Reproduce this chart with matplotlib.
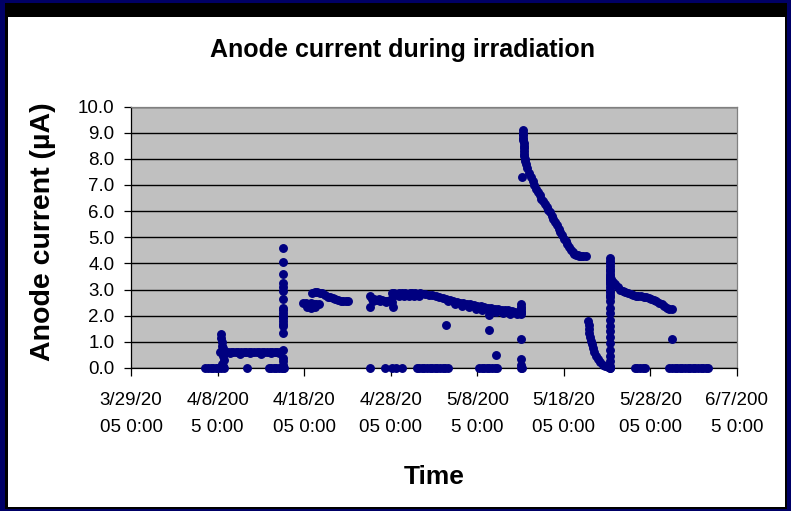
import matplotlib
matplotlib.use("Agg")
import matplotlib.pyplot as plt
from matplotlib.patches import Rectangle

plt.rcParams['font.family'] = ['Liberation Sans', 'DejaVu Sans']

# ---------------- data (days since 3/29/2005 0:00, anode current in uA) -------------
title = "Anode current during irradiation"
x_label = "Time"
y_label = "Anode current (µA)"

x_ticks = [0, 10, 20, 30, 40, 50, 60, 70]
x_tick_labels = ["3/29/20\n05 0:00", "4/8/200\n5 0:00", "4/18/20\n05 0:00",
                 "4/28/20\n05 0:00", "5/8/200\n5 0:00", "5/18/20\n05 0:00",
                 "5/28/20\n05 0:00", "6/7/200\n5 0:00"]
y_ticks = [0, 1, 2, 3, 4, 5, 6, 7, 8, 9, 10]
y_tick_labels = ["0.0", "1.0", "2.0", "3.0", "4.0", "5.0", "6.0", "7.0", "8.0", "9.0", "10.0"]

zeros_days = [8.6, 8.9, 9.2, 9.5, 9.8, 10.1, 10.4, 10.7, 13.4,
              15.9, 16.2, 16.5, 16.8, 17.1, 17.4, 17.7,
              27.6, 29.3, 30.1, 30.6, 31.3,
              33.0, 33.3, 33.6, 33.9, 34.2, 34.5, 34.8, 35.1, 35.4, 35.7, 36.0, 36.3, 36.6,
              40.2, 40.5, 40.8, 41.1, 41.4, 41.7, 42.0, 42.3,
              45.2, 55.3,
              58.2, 58.5, 58.8, 59.1, 59.4,
              62.2, 62.5, 62.8, 63.1, 63.4, 63.7, 64.0, 64.3, 64.6, 64.9, 65.2, 65.5,
              65.8, 66.1, 66.4, 66.7]
zeros_vals = [0.0] * len(zeros_days)

startup_days = [10.4, 10.4, 10.5, 10.5, 10.6, 10.6, 10.7, 10.5, 10.6]
startup_vals = [1.3, 1.15, 1.0, 0.85, 0.75, 0.45, 0.3, 0.15, 0.08]

low_band_days = [10.3, 10.6, 10.9, 11.2, 11.5, 11.8, 12.1, 12.4, 12.7, 13.0, 13.3, 13.6,
                 13.9, 14.2, 14.5, 14.8, 15.1, 15.4, 15.7, 16.0, 16.3, 16.6, 16.9, 17.2,
                 10.5, 11.4, 12.6, 13.8, 15.0, 16.2, 17.1]
low_band_vals = [0.62, 0.65, 0.6, 0.63, 0.62, 0.6, 0.62, 0.6, 0.6, 0.6, 0.62, 0.6,
                 0.6, 0.6, 0.6, 0.6, 0.6, 0.6, 0.6, 0.6, 0.6, 0.6, 0.6, 0.62,
                 0.7, 0.56, 0.55, 0.56, 0.55, 0.56, 0.58]

spike1_days = [17.5] * 22
spike1_vals = [4.6, 4.05, 3.6, 3.25, 3.1, 2.95, 2.65, 2.3, 2.2, 2.1, 2.0, 1.9, 1.8, 1.7,
               1.6, 1.35, 0.7, 0.4, 0.25, 0.1, 0.05, 0.0]

seg_apr18_days = [19.9, 20.2, 20.5, 20.8, 21.1, 21.4, 21.7, 20.3, 20.8, 21.3,
                  20.9, 21.2, 21.5, 21.8, 22.1, 22.4, 22.7, 23.0, 23.3, 23.6, 23.9,
                  24.2, 24.5, 24.8, 25.1]
seg_apr18_vals = [2.48, 2.47, 2.45, 2.47, 2.45, 2.46, 2.45, 2.35, 2.3, 2.32,
                  2.85, 2.9, 2.9, 2.88, 2.85, 2.78, 2.72, 2.7, 2.66, 2.63, 2.6,
                  2.58, 2.57, 2.56, 2.55]

seg_apr28_days = [27.6, 27.6, 27.8, 28.1, 28.4, 28.7, 29.0, 29.3, 29.6, 29.9, 30.2, 30.3,
                  28.0, 28.8, 29.5,
                  30.1, 30.4, 30.7, 31.0, 31.3, 31.6, 31.9, 32.2, 32.5, 32.8, 33.1, 33.4,
                  30.3, 30.9, 31.5, 32.1, 32.7, 33.3]
seg_apr28_vals = [2.74, 2.35, 2.65, 2.62, 2.6, 2.62, 2.6, 2.58, 2.56, 2.6, 2.52, 2.35,
                  2.55, 2.55, 2.52,
                  2.85, 2.85, 2.84, 2.86, 2.85, 2.85, 2.84, 2.86, 2.85, 2.85, 2.84, 2.85,
                  2.75, 2.76, 2.75, 2.76, 2.75, 2.76]

decline_days = [34.0, 34.4, 34.8, 35.2, 35.6, 36.0, 36.4, 36.8, 37.2, 37.6, 38.0, 38.4,
                38.8, 39.2, 39.6, 40.0, 40.4, 40.8, 41.2, 41.6, 42.0, 42.4, 42.8, 43.2,
                43.6, 44.0, 44.4, 44.8, 45.0,
                36.6, 37.4, 38.2, 39.0, 39.8, 40.6, 41.4, 42.2, 43.0, 43.8, 44.6]
decline_vals = [2.82, 2.8, 2.78, 2.75, 2.72, 2.68, 2.64, 2.6, 2.57, 2.54, 2.5, 2.48,
                2.45, 2.43, 2.4, 2.38, 2.36, 2.33, 2.31, 2.29, 2.26, 2.24, 2.22, 2.21,
                2.2, 2.18, 2.16, 2.14, 2.13,
                2.55, 2.45, 2.38, 2.32, 2.27, 2.22, 2.18, 2.14, 2.1, 2.08, 2.06]

spike2_days = [45.1, 45.1, 45.1, 45.1, 45.1, 45.1, 45.1, 45.1, 45.1]
spike2_vals = [2.45, 2.35, 2.25, 2.15, 2.05, 1.12, 0.35, 0.12, 0.0]

stray_days = [36.4, 41.3, 41.3, 42.2, 62.5]
stray_vals = [1.66, 2.03, 1.45, 0.5, 1.11]

peak_days = [45.3, 45.3, 45.3, 45.3, 45.3, 45.35, 45.35, 45.35, 45.4, 45.4, 45.45, 45.5,
             45.5, 45.2,
             45.6, 45.8, 46.0, 46.2, 46.4, 46.6, 46.8, 47.0, 47.2, 47.4, 47.6, 47.8,
             48.0, 48.2, 48.4, 48.6, 48.8, 49.0, 49.2, 49.4, 49.6, 49.8, 50.0, 50.2,
             50.4, 50.6, 50.8, 51.0, 51.2, 51.4, 51.6, 51.8, 52.0, 52.2, 52.5]
peak_vals = [9.1, 9.0, 8.9, 8.8, 8.7, 8.6, 8.5, 8.4, 8.3, 8.2, 8.1, 8.0,
             7.9, 7.3,
             7.8, 7.65, 7.45, 7.3, 7.15, 7.0, 6.85, 6.72, 6.6, 6.48, 6.38, 6.27,
             6.15, 6.05, 5.95, 5.83, 5.7, 5.57, 5.45, 5.32, 5.2, 5.07, 4.95, 4.85,
             4.73, 4.62, 4.52, 4.43, 4.37, 4.33, 4.31, 4.3, 4.3, 4.3, 4.3]

dip_days = [52.8, 52.85, 52.9, 52.95, 53.0, 53.1, 53.2, 53.35, 53.5, 53.7, 53.9, 54.2,
            54.5, 54.8, 55.1, 55.3]
dip_vals = [1.8, 1.65, 1.5, 1.35, 1.2, 1.05, 0.9, 0.75, 0.6, 0.45, 0.33, 0.22,
            0.13, 0.07, 0.03, 0.0]

spike3_days = [55.3] * 30
spike3_vals = [4.2, 4.1, 4.0, 3.9, 3.8, 3.7, 3.6, 3.5, 3.4, 3.3, 3.2, 3.1, 3.0, 2.9,
               2.8, 2.73, 2.55, 2.3, 2.1, 1.85, 1.6, 1.4, 1.2, 0.96, 0.7, 0.44, 0.25,
               0.06, 3.45, 3.35]

decay_days = [55.5, 55.7, 55.9, 56.2, 56.5, 56.8, 57.1, 57.4, 57.7, 58.0, 58.3, 58.6,
              58.9, 59.2, 59.5, 59.8, 60.1, 60.4, 60.7, 61.0, 61.3, 61.6, 61.9, 62.2,
              62.5]
decay_vals = [3.4, 3.3, 3.2, 3.08, 3.0, 2.95, 2.9, 2.87, 2.83, 2.8, 2.77, 2.75,
              2.74, 2.73, 2.72, 2.68, 2.65, 2.61, 2.57, 2.5, 2.43, 2.36, 2.31, 2.27,
              2.25]

series = [(zeros_days, zeros_vals), (startup_days, startup_vals),
          (low_band_days, low_band_vals), (spike1_days, spike1_vals),
          (seg_apr18_days, seg_apr18_vals), (seg_apr28_days, seg_apr28_vals),
          (decline_days, decline_vals), (spike2_days, spike2_vals),
          (stray_days, stray_vals), (peak_days, peak_vals), (dip_days, dip_vals),
          (spike3_days, spike3_vals), (decay_days, decay_vals)]

# ---------------- figure ----------------
W, H = 791, 511
fig = plt.figure(figsize=(W / 100, H / 100), dpi=100)
fig.patch.set_facecolor('#000066')


def frame_rect(x0, y0, x1, y1, color, edge='none'):
    fig.add_artist(Rectangle((x0 / W, 1 - y1 / H), (x1 - x0) / W, (y1 - y0) / H,
                             transform=fig.transFigure, facecolor=color,
                             edgecolor=edge, linewidth=0.8, zorder=0))


frame_rect(5, 3, 787, 509, '#000000')
frame_rect(8, 17, 785, 507, '#FFFFFF')

ax = fig.add_axes([131 / W, 1 - 368 / H, (737 - 131) / W, (368 - 106.5) / H])
ax.set_facecolor('#C0C0C0')
ax.set_xlim(0, 70)
ax.set_ylim(0, 10)

for d, v in series:
    ax.plot(d, v, linestyle='none', marker='o', markersize=5.4,
            color='#000080', markeredgecolor='#000080', zorder=3, clip_on=False)

ax.set_yticks(y_ticks)
ax.set_yticklabels(y_tick_labels)
ax.set_xticks(x_ticks)
ax.set_xticklabels(x_tick_labels, linespacing=1.8)
ax.tick_params(axis='y', direction='out', length=5, width=0.9, pad=7,
               labelsize=13.5, colors='black')
ax.tick_params(axis='x', direction='out', length=6, width=0.9, pad=11,
               labelsize=13.5, colors='black')

ax.set_axisbelow(True)
ax.yaxis.grid(True, color='black', linewidth=1.0)
ax.xaxis.grid(False)

for s in ['left', 'bottom']:
    ax.spines[s].set_color('black')
    ax.spines[s].set_linewidth(0.9)
for s in ['top', 'right']:
    ax.spines[s].set_color('#808080')
    ax.spines[s].set_linewidth(0.9)

fig.text(402 / W, 1 - 57 / H, title, ha='center', va='baseline',
         fontsize=18, fontweight='bold')
fig.text(434 / W, 1 - 484 / H, x_label, ha='center', va='baseline',
         fontsize=19, fontweight='bold')
fig.text(43 / W, 1 - 232 / H, y_label, ha='center', va='center', rotation=90,
         fontsize=20.5, fontweight='bold')

fig.savefig('out.png', dpi=100, facecolor=fig.get_facecolor())
